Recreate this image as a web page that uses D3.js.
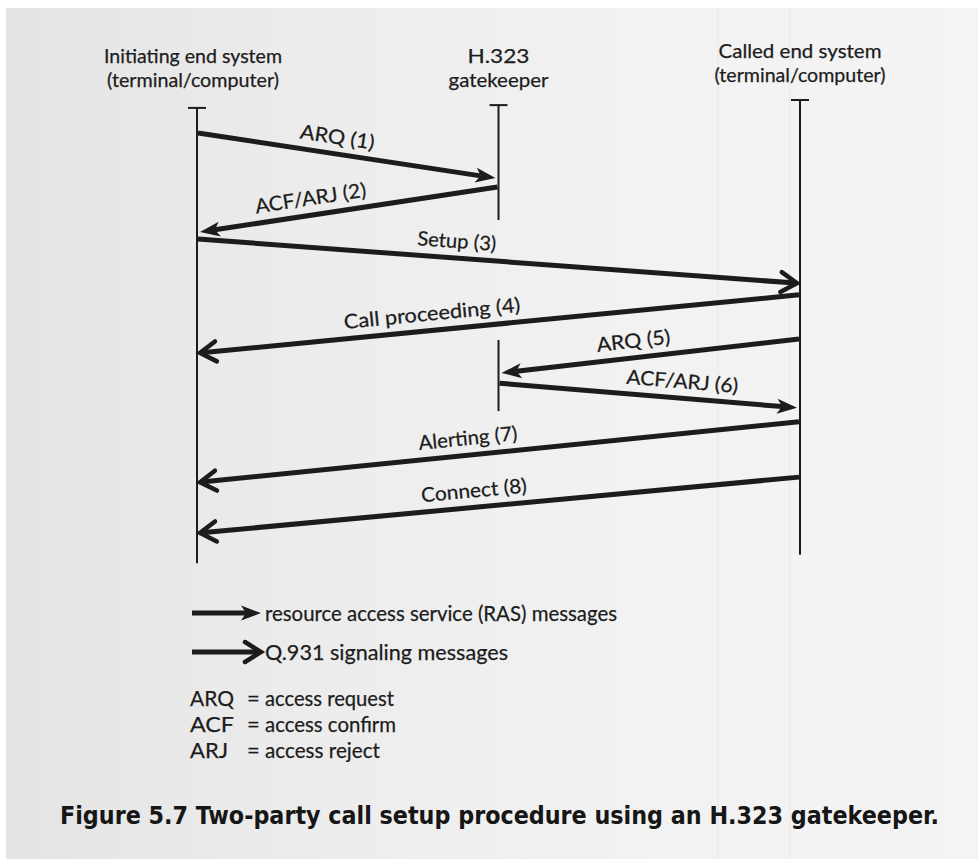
<!DOCTYPE html>
<html>
<head>
<meta charset="utf-8">
<script src="https://cdn.jsdelivr.net/npm/d3@7"></script>
<style>
  html, body { margin: 0; padding: 0; background: #fff; }
  svg { display: block; }
</style>
</head>
<body>
<div id="chart"></div>
<script>
// participants of the exchange
const actors = ['init', 'gk', 'called'];
const actorTitles = [
  ['Initiating end system', '(terminal/computer)'],
  ['H.323', 'gatekeeper'],
  ['Called end system', '(terminal/computer)']
];

// lifeline pieces, time in 0..100 units from the top
const lifeActor = ['init', 'gk', 'gk', 'called'];
const lifeStart = [1.7, 1.1, 51.6, 0];
const lifeEnd = [99.6, 25.8, 66.9, 97.8];
const lifeCap = [true, true, false, true];

// messages
const msgLabel = ['ARQ (1)', 'ACF/ARJ (2)', 'Setup (3)', 'Call proceeding (4)',
  'ARQ (5)', 'ACF/ARJ (6)', 'Alerting (7)', 'Connect (8)'];
const msgFrom = ['init', 'gk', 'init', 'called', 'called', 'gk', 'called', 'called'];
const msgTo = ['gk', 'init', 'called', 'init', 'gk', 'called', 'init', 'init'];
const msgT0 = [7.1, 18.7, 29.9, 41.9, 51.4, 60.9, 69.2, 81.1];
const msgT1 = [16.8, 28.4, 39.4, 54.4, 58.7, 66.2, 82.2, 93.1];
const msgKind = ['ras', 'ras', 'q931', 'q931', 'ras', 'ras', 'q931', 'q931'];
const msgLabelAt = [0.46, 0.38, 0.43, 0.39, 0.45, 0.61, 0.45, 0.46];

// legend
const legendKinds = ['ras', 'q931'];
const legendText = ['resource access service (RAS) messages', 'Q.931 signaling messages'];
const abbrev = ['ARQ', 'ACF', 'ARJ'];
const abbrevMeaning = ['access request', 'access confirm', 'access reject'];

const caption = 'Figure 5.7  Two-party call setup procedure using an H.323 gatekeeper.';

const W = 978, H = 859;
const ink = '#1c1c1c';
const font = 'Lato, "Open Sans", sans-serif';

const svg = d3.select('#chart').append('svg')
  .attr('width', W).attr('height', H);

// scanned page background
const defs = svg.append('defs');
const grad = defs.append('linearGradient').attr('id', 'paper')
  .attr('x1', 0).attr('x2', 1).attr('y1', 0).attr('y2', 0);
grad.append('stop').attr('offset', 0).attr('stop-color', '#e4e4e4');
grad.append('stop').attr('offset', 0.3).attr('stop-color', '#ececec');
grad.append('stop').attr('offset', 0.65).attr('stop-color', '#f2f2f2');
grad.append('stop').attr('offset', 1).attr('stop-color', '#f4f4f4');
svg.append('rect').attr('x', 6).attr('y', 8).attr('width', W - 6).attr('height', H - 8)
  .attr('fill', 'url(#paper)');
[718, 790].forEach(x => {
  svg.append('line').attr('x1', x).attr('x2', x).attr('y1', 8).attr('y2', H)
    .attr('stroke', '#e8e8e8').attr('stroke-width', 1);
});

const x = d3.scalePoint().domain(actors).range([197, 800]);
const y = d3.scaleLinear().domain([0, 100]).range([100, 565]);

// headers
const head = svg.append('g').attr('font-family', font).attr('fill', ink)
  .attr('stroke', ink).attr('stroke-width', 0.25)
  .attr('font-size', 20).attr('text-anchor', 'middle');
const headTop = { init: 63, gk: 63, called: 58 };
const headW = [[178, 172], [62, 100], [163, 171]];
actors.forEach((a, i) => {
  actorTitles[i].forEach((line, j) => {
    head.append('text')
      .attr('x', a === 'init' ? x(a) - 4 : x(a))
      .attr('y', headTop[a] + j * 24)
      .attr('textLength', headW[i][j])
      .attr('lengthAdjust', 'spacingAndGlyphs')
      .text(line);
  });
});

// lifelines
const life = svg.append('g').attr('stroke', ink).attr('stroke-width', 2);
lifeActor.forEach((a, i) => {
  life.append('line')
    .attr('x1', x(a)).attr('x2', x(a))
    .attr('y1', y(lifeStart[i])).attr('y2', y(lifeEnd[i]));
  if (lifeCap[i]) {
    life.append('line')
      .attr('x1', x(a) - 9).attr('x2', x(a) + 9)
      .attr('y1', y(lifeStart[i])).attr('y2', y(lifeStart[i]));
  }
});

// arrow helpers
function drawArrow(g, x0, y0, x1, y1, kind) {
  const ang = Math.atan2(y1 - y0, x1 - x0);
  const ux = Math.cos(ang), uy = Math.sin(ang);
  const px = -uy, py = ux;
  if (kind === 'ras') {
    const len = 20, hw = 7.5, notch = 15;
    g.append('line')
      .attr('x1', x0).attr('y1', y0)
      .attr('x2', x1 - ux * notch).attr('y2', y1 - uy * notch)
      .attr('stroke', ink).attr('stroke-width', 5);
    const pts = [
      [x1, y1],
      [x1 - ux * len + px * hw, y1 - uy * len + py * hw],
      [x1 - ux * notch, y1 - uy * notch],
      [x1 - ux * len - px * hw, y1 - uy * len - py * hw]
    ];
    g.append('path').attr('d', 'M' + pts.map(p => p.join(',')).join('L') + 'Z')
      .attr('fill', ink);
  } else {
    const len = 16, hw = 10;
    g.append('line')
      .attr('x1', x0).attr('y1', y0)
      .attr('x2', x1 - ux * 1.5).attr('y2', y1 - uy * 1.5)
      .attr('stroke', ink).attr('stroke-width', 5);
    g.append('path')
      .attr('d', `M${x1 - ux * len + px * hw},${y1 - uy * len + py * hw}L${x1},${y1}L${x1 - ux * len - px * hw},${y1 - uy * len - py * hw}`)
      .attr('fill', 'none').attr('stroke', ink).attr('stroke-width', 4.5)
      .attr('stroke-linejoin', 'miter').attr('stroke-linecap', 'round');
  }
}

// messages
const msgs = svg.append('g');
const labelW = [75, 112, 79, 177, 74, 112, 99, 106];
msgLabel.forEach((lab, i) => {
  const dir = x(msgTo[i]) > x(msgFrom[i]) ? 1 : -1;
  const x0 = x(msgFrom[i]) + dir * 1;
  const x1 = x(msgTo[i]) - dir * 3;
  const y0 = y(msgT0[i]), y1 = y(msgT1[i]);
  drawArrow(msgs, x0, y0, x1, y1, msgKind[i]);

  // label above the arrow, parallel to it
  const lx0 = Math.min(x0, x1), lx1 = Math.max(x0, x1);
  const ly0 = x0 < x1 ? y0 : y1, ly1 = x0 < x1 ? y1 : y0;
  const t = msgLabelAt[i];
  const cx = lx0 + (lx1 - lx0) * t, cy = ly0 + (ly1 - ly0) * t;
  const ang = Math.atan2(ly1 - ly0, lx1 - lx0);
  const off = 17;
  const tx = cx + Math.sin(ang) * off, ty = cy - Math.cos(ang) * off;
  msgs.append('text')
    .attr('transform', `translate(${tx},${ty}) rotate(${ang * 180 / Math.PI})`)
    .attr('text-anchor', 'middle').attr('dy', '0.35em')
    .attr('font-family', font).attr('font-size', 20).attr('fill', ink)
    .attr('stroke', ink).attr('stroke-width', 0.25)
    .attr('textLength', labelW[i]).attr('lengthAdjust', 'spacingAndGlyphs')
    .text(lab);
});

// legend
const leg = svg.append('g');
const legY = d3.scalePoint().domain(legendKinds).range([613, 652]);
const legTextW = [352, 243];
legendKinds.forEach((k, i) => {
  drawArrow(leg, 192, legY(k), 261, legY(k), k);
  leg.append('text')
    .attr('x', 265).attr('y', legY(k)).attr('dy', '0.35em')
    .attr('font-family', font).attr('font-size', 22).attr('fill', ink)
    .attr('stroke', ink).attr('stroke-width', 0.25)
    .attr('textLength', legTextW[i]).attr('lengthAdjust', 'spacingAndGlyphs')
    .text(legendText[i]);
});

const abY = d3.scalePoint().domain(abbrev).range([698, 750]);
const abW = [129, 131, 115];
abbrev.forEach((a, i) => {
  const row = leg.append('g').attr('font-family', font).attr('font-size', 22).attr('fill', ink)
    .attr('stroke', ink).attr('stroke-width', 0.25);
  row.append('text').attr('x', 190).attr('y', abY(a)).attr('dy', '0.35em')
    .attr('textLength', a === 'ARJ' ? 38 : 44).attr('lengthAdjust', 'spacingAndGlyphs').text(a);
  row.append('text').attr('x', 247).attr('y', abY(a)).attr('dy', '0.35em').text('=');
  row.append('text').attr('x', 265).attr('y', abY(a)).attr('dy', '0.35em')
    .attr('textLength', abW[i]).attr('lengthAdjust', 'spacingAndGlyphs')
    .text(abbrevMeaning[i]);
});

// caption
svg.append('text')
  .attr('x', 60).attr('y', 815).attr('dy', '0.35em')
  .attr('font-family', '"DejaVu Sans Condensed", "DejaVu Sans", sans-serif')
  .attr('font-weight', 'bold').attr('font-size', 25).attr('fill', '#161616')
  .attr('textLength', 879).attr('lengthAdjust', 'spacingAndGlyphs')
  .text(caption);
</script>
</body>
</html>
